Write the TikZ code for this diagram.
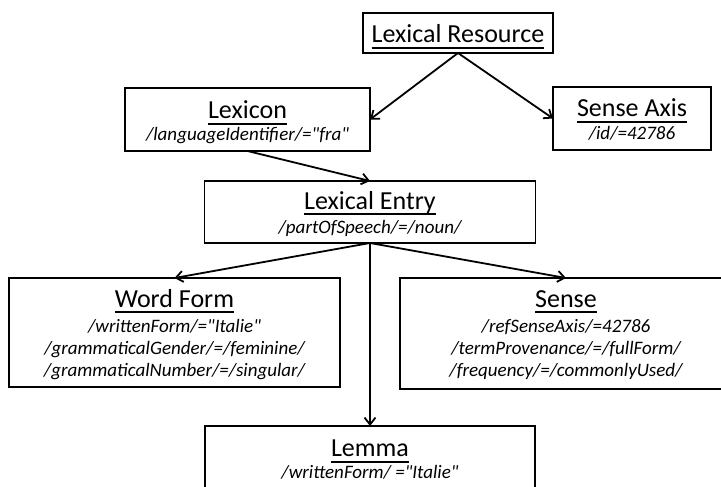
\documentclass[tikz,border=0pt]{standalone}
\usepackage{fontspec}
\setmainfont{Carlito}[Ligatures=TeXOff]
\usetikzlibrary{arrows.meta}
\newcommand\tul[1]{\setbox0\hbox{#1}\rlap{\rule[-6pt]{\wd0}{2pt}}\box0}
\newcommand\qq{\symbol{34}}
\begin{document}
\begin{tikzpicture}[x=1pt,y=-1pt,
  box/.style={draw,line width=1.8pt,inner sep=0pt,outer sep=0pt},
  ttl/.style={anchor=base,inner sep=0pt,font=\fontsize{26}{30}\selectfont},
  sub/.style={anchor=base,inner sep=0pt,font=\fontsize{19}{22}\selectfont\itshape},
  arr/.style={line width=1.8pt,-{Straight Barb[length=7pt,width=11pt]}}]
\useasboundingbox (0,0) rectangle (721,487);
\clip (0,0) rectangle (721,487);
% boxes
\node[box,minimum width=190pt,minimum height=40pt] (lr) at (458,33) {};
\node[box,minimum width=245pt,minimum height=63pt] (lex) at (247.5,119.5) {};
\node[box,minimum width=158pt,minimum height=63pt] (sa) at (632,118.5) {};
\node[box,minimum width=331pt,minimum height=62pt] (le) at (370,212) {};
\node[box,minimum width=331pt,minimum height=109pt] (wf) at (174.5,332.5) {};
\node[box,minimum width=332pt,minimum height=111pt] (se) at (566,333.5) {};
\node[box,minimum width=330pt,minimum height=94pt] (lm) at (370,473) {};
% texts
\node[ttl] (lrt) at (458,42.7) {\tul{Lexical Resource}};
\node[ttl] (lext) at (247.5,119) {\tul{Lexicon}};
\node[sub] (lexs) at (247.5,140) {/languageIdentifier/=\qq fra\qq};
\node[ttl] (sat) at (632,117) {\tul{Sense Axis}};
\node[sub] (sas) at (632,139.3) {/id/=42786};
\node[ttl] (let) at (370,209.3) {\tul{Lexical Entry}};
\node[sub] (les) at (370,233) {/partOfSpeech/=/noun/};
\node[ttl] (wft) at (174.5,307.3) {\tul{Word Form}};
\node[sub] (wf1) at (174.5,332.5) {/writtenForm/=\qq Italie\qq};
\node[sub] (wf2) at (174.5,354.5) {/grammaticalGender/=/feminine/};
\node[sub] (wf3) at (174.5,376) {/grammaticalNumber/=/singular/};
\node[ttl] (set) at (566,307.3) {\tul{Sense}};
\node[sub] (se1) at (566,332.5) {/refSenseAxis/=42786};
\node[sub] (se2) at (566,354.5) {/termProvenance/=/fullForm/};
\node[sub] (se3) at (566,376) {/frequency/=/commonlyUsed/};
\node[ttl] (lmt) at (370,456.7) {\tul{Lemma}};
\node[sub] (lms) at (370,478) {/writtenForm/ =\qq Italie\qq};
% connectors
\draw[arr] (lr.south) -- (lex.east);
\draw[arr] (lr.south) -- (sa.west);
\draw[arr] (lex.south) -- (le.north);
\draw[arr] (le.south) -- (wf.north);
\draw[arr] (le.south) -- (se.north);
\draw[arr] (le.south) -- (lm.north);
\end{tikzpicture}
\end{document}
